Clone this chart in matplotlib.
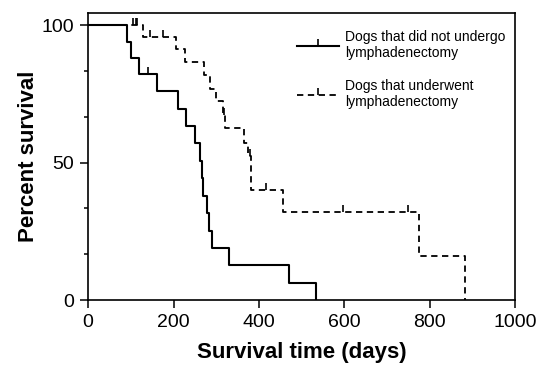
import matplotlib
matplotlib.use('Agg')
import matplotlib.pyplot as plt
from matplotlib.lines import Line2D
from matplotlib.ticker import MultipleLocator

plt.rcParams['font.family'] = ['Liberation Sans', 'DejaVu Sans']

# dogs that did not undergo lymphadenectomy
no_lnd_time = [0, 91, 101, 120, 162, 211, 230, 251, 262, 266, 270, 278, 284, 290, 331, 471, 534]
no_lnd_surv = [100, 94.1, 88.2, 82.4, 76.0, 69.7, 63.4, 57.0, 50.7, 44.4, 38.0, 31.7, 25.3, 19.0, 12.7, 6.3, 0]
no_lnd_cens_time = [140]
no_lnd_cens_surv = [82.4]

# dogs that underwent lymphadenectomy
lnd_time = [0, 128, 206, 227, 272, 286, 300, 317, 320, 364, 374, 381, 456, 775, 883]
lnd_surv = [100, 95.7, 91.3, 86.6, 81.8, 77.0, 72.4, 67.5, 62.5, 57.2, 52.3, 40.0, 32.0, 16.0, 0]
lnd_cens_time = [106, 111, 115, 144, 176, 318, 378, 417, 598, 750]
lnd_cens_surv = [100, 100, 100, 95.7, 95.7, 67.5, 52.3, 40.0, 32.0, 32.0]

labels = ['Dogs that did not undergo\nlymphadenectomy',
          'Dogs that underwent\nlymphadenectomy']

fig = plt.figure(figsize=(5.41, 3.70), dpi=100)
ax = fig.add_axes([0.163, 0.189, 0.789, 0.776])

ax.step(no_lnd_time, no_lnd_surv, where='post', color='black', lw=1.5)
ax.plot(no_lnd_cens_time, no_lnd_cens_surv, ls='none', marker=2, ms=5, mew=1.2, color='black')

ax.step(lnd_time, lnd_surv, where='post', color='black', lw=1.3, ls=(0, (3.5, 2.5)))
ax.plot(lnd_cens_time, lnd_cens_surv, ls='none', marker=2, ms=5, mew=1.2, color='black')

ax.set_xlim(0, 1000)
ax.set_ylim(0, 104.5)
ax.xaxis.set_major_locator(MultipleLocator(200))
ax.set_yticks([0, 50, 100])
ax.yaxis.set_minor_locator(MultipleLocator(100 / 6))
ax.tick_params(which='major', direction='out', length=6, width=1.1, labelsize=14, pad=4)
ax.tick_params(which='minor', direction='out', length=3, width=1.1)
for s in ax.spines.values():
    s.set_linewidth(1.2)

ax.set_xlabel('Survival time (days)', fontsize=16, fontweight='bold', labelpad=8)
ax.set_ylabel('Percent survival', fontsize=16, fontweight='bold', labelpad=2)

handles = [
    Line2D([], [], color='black', lw=1.5, marker=2, ms=5, mew=1.2),
    Line2D([], [], color='black', lw=1.3, ls=(0, (3.5, 2.5)), marker=2, ms=5, mew=1.2),
]
ax.legend(handles, labels, loc='upper left', frameon=False, fontsize=10,
          handlelength=3.0, handletextpad=0.45, numpoints=1, labelspacing=1.35,
          borderpad=0, borderaxespad=0, bbox_to_anchor=(0.49, 0.94))

fig.savefig('out.png', dpi=100)
